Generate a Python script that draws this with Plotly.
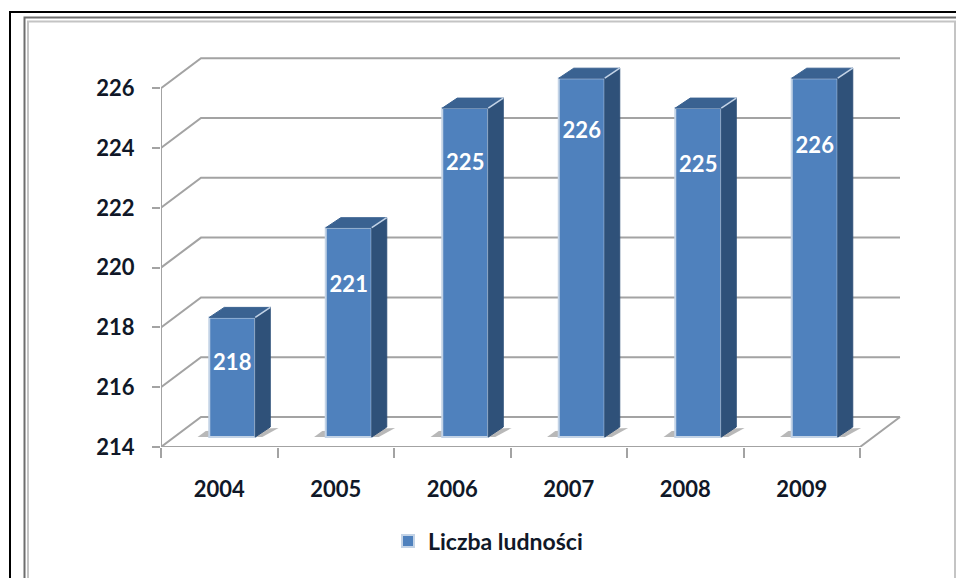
import plotly.graph_objects as go

# Data
years = ["2004", "2005", "2006", "2007", "2008", "2009"]
population = [218, 221, 225, 226, 225, 226]
y_ticks = [214, 216, 218, 220, 222, 224, 226]
label_fraction = [0.627, 0.727, 0.835, 0.855, 0.83, 0.813]
series_name = "Liczba ludności"

# Layout / pseudo-3D geometry
W, H = 956, 578
L, R, T, B = 161, 905, 50, 447
cat_px = 116.5
unit_px = 29.9
x_min = -0.5
x_max = x_min + (R - L) / cat_px
y_min = 214
y_max = y_min + (B - T) / unit_px
floor_n = len(years) - 0.5
back_dx, back_dy = 40 / cat_px, 30 / unit_px
bar_shift, bar_base = 13 / cat_px, 10 / unit_px
bar_w = 46 / cat_px
side_dx, side_dy = 15 / cat_px, 10 / unit_px
FONT = "Lato"
TXT = "#101828"
GRID = "#a3a3a3"
FRONT, SIDE, TOP, EDGE = "#4f81bd", "#2f5179", "#3a6291", "#c3d3e6"


def px(x):
    return (x - L) / (R - L)


def py(y):
    return (B - y) / (B - T)


def path(points, close=False):
    return "M" + " L".join(f"{a},{b}" for a, b in points) + (" Z" if close else "")


shapes = []
# back wall and floor lines
for v in y_ticks:
    shapes.append(dict(type="path", xref="x", yref="y", layer="below",
                       path=path([(x_min, v), (x_min + back_dx, v + back_dy),
                                  (floor_n + back_dx, v + back_dy)]),
                       line=dict(color=GRID, width=2)))
# floor right edge, bottom edge and left axis
shapes.append(dict(type="path", xref="x", yref="y", layer="below",
                   path=path([(floor_n + back_dx, y_min + back_dy), (floor_n, y_min), (x_min, y_min),
                              (x_min, y_ticks[-1])]),
                   line=dict(color=GRID, width=2)))
# shadows on the floor
for i, _ in enumerate(years):
    c = i + bar_shift
    z = y_min + bar_base
    shapes.append(dict(type="path", xref="x", yref="y", layer="below",
                       path=path([(c - bar_w / 2 - 0.1, z), (c - bar_w / 2 - 0.03, z + 0.2),
                                  (c + bar_w / 2 + 0.2, z + 0.3), (c + bar_w / 2 + 0.06, z)], True),
                       fillcolor="rgba(125,125,125,0.55)", line=dict(width=0)))
# picture frames (decor)
for x0, y0, col, w in [(10, 12, "#000000", 2), (24.5, 17.5, "#6e6e6e", 2), (28, 21.5, "#c4c4c4", 2)]:
    shapes.append(dict(type="path", xref="paper", yref="paper", layer="above",
                       path=path([(px(x0), py(H + 5)), (px(x0), py(y0)), (px(W + 5), py(y0))]),
                       line=dict(color=col, width=w)))
shapes.append(dict(type="path", xref="paper", yref="paper", layer="above",
                   path=path([(px(955), py(21.5)), (px(955), py(H + 5))]),
                   line=dict(color="#c4c4c4", width=2)))

fig = go.Figure()
centers = [i + bar_shift for i in range(len(years))]
fig.add_trace(go.Bar(x=centers, y=[v - y_min for v in population],
                     base=y_min + bar_base, width=bar_w, name=series_name,
                     marker=dict(color=FRONT, line=dict(color=EDGE, width=2)),
                     showlegend=True, hoverinfo="skip"))

for c, v in zip(centers, population):
    left, right = c - bar_w / 2, c + bar_w / 2
    top, base = v + bar_base, y_min + bar_base
    fig.add_trace(go.Scatter(x=[right, right + side_dx, right + side_dx, right, right],
                             y=[top, top + side_dy, base + side_dy, base, top],
                             mode="lines", fill="toself", fillcolor=SIDE,
                             line=dict(color=SIDE, width=1), showlegend=False, hoverinfo="skip"))
    fig.add_trace(go.Scatter(x=[left, left + side_dx, right + side_dx, right, left],
                             y=[top, top + side_dy, top + side_dy, top, top],
                             mode="lines", fill="toself", fillcolor=TOP,
                             line=dict(color=TOP, width=1), showlegend=False, hoverinfo="skip"))
    fig.add_trace(go.Scatter(x=[right, right + side_dx], y=[top, top + side_dy],
                             mode="lines", line=dict(color=EDGE, width=1.5),
                             showlegend=False, hoverinfo="skip"))

fig.add_trace(go.Scatter(x=centers,
                         y=[y_min + bar_base + f * (v - y_min) - 0.07 for f, v in zip(label_fraction, population)],
                         text=[str(v) for v in population], mode="text", textposition="middle center",
                         textfont=dict(family=FONT, size=22, color="white", weight="bold"),
                         showlegend=False, hoverinfo="skip"))

tick_font = dict(family=FONT, size=22, color=TXT, weight="bold")
fig.update_layout(
    width=W, height=H, margin=dict(l=L, r=W - R, t=T, b=H - B, pad=0),
    paper_bgcolor="white", plot_bgcolor="white", shapes=shapes, showlegend=True,
    font=dict(family=FONT),
    legend=dict(x=px(388), y=py(541), xanchor="left", yanchor="middle",
                bgcolor="rgba(0,0,0,0)", font=dict(family=FONT, size=23, color=TXT, weight="bold"),
                itemclick=False, itemdoubleclick=False),
    xaxis=dict(range=[x_min, x_max], tickmode="array", tickvals=list(range(len(years))), ticktext=years,
               ticks="", showgrid=False, zeroline=False, showline=False, tickfont=tick_font,
               ticklabelstandoff=27, fixedrange=True,
               minor=dict(tickmode="array", tickvals=[i - 0.5 for i in range(len(years) + 1)],
                          ticks="outside", ticklen=10, tickwidth=2, tickcolor=GRID, showgrid=False)),
    yaxis=dict(range=[y_min, y_max], tickmode="array", tickvals=y_ticks,
               ticktext=[str(v) for v in y_ticks], ticks="outside", ticklen=8, tickwidth=2, tickcolor=GRID,
               showgrid=False, zeroline=False, showline=False, tickfont=tick_font,
               ticklabelstandoff=13, fixedrange=True),
)

fig.write_html("out.html", config=dict(displayModeBar=False),
               post_script="document.body.style.margin='0';document.body.style.overflow='hidden';")
